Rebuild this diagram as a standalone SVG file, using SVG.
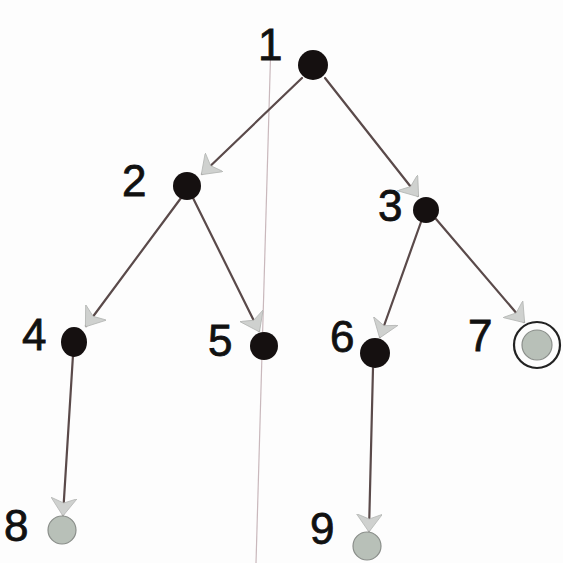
<svg xmlns="http://www.w3.org/2000/svg" width="563" height="563" viewBox="0 0 563 563">
<defs>
<style>
.edge{stroke:#5a4a4a;stroke-width:2.2;fill:none;stroke-linecap:round}
.dark{fill:#151010}
.leaf{fill:#b8c0b8;stroke:#8a8e8a;stroke-width:1.2}
.lbl{font-family:"Liberation Sans",sans-serif;font-size:44px;fill:#111;stroke:#111;stroke-width:0.8}
</style>
<marker id="ah" viewBox="0 0 18 26" refX="17" refY="13" markerWidth="18" markerHeight="26" markerUnits="userSpaceOnUse" orient="auto">
<path d="M0,0 L18,13 L0,26 L5,13 Z" fill="#cfd1cf" stroke="#b4b6b4" stroke-width="0.8"/>
</marker>
</defs>
<rect width="563" height="563" fill="#fdfdfd"/>
<line x1="271" y1="40" x2="256" y2="563" stroke="#c9b8bc" stroke-width="1.2"/>
<g id="connectors">
<line class="edge" x1="302" y1="78" x2="202" y2="174" marker-end="url(#ah)"/>
<line class="edge" x1="325" y1="78" x2="418" y2="196" marker-end="url(#ah)"/>
<line class="edge" x1="181" y1="198" x2="86" y2="326" marker-end="url(#ah)"/>
<line class="edge" x1="193" y1="198" x2="259" y2="331" marker-end="url(#ah)"/>
<line class="edge" x1="421" y1="222" x2="380" y2="337" marker-end="url(#ah)"/>
<line class="edge" x1="436" y1="219" x2="524" y2="322" marker-end="url(#ah)"/>
<line class="edge" x1="73" y1="355" x2="63" y2="515" marker-end="url(#ah)"/>
<line class="edge" x1="373" y1="368" x2="369" y2="531" marker-end="url(#ah)"/>
</g>
<g id="n1"><circle class="dark" cx="313" cy="65" r="15"/><text class="lbl" x="258" y="60">1</text></g>
<g id="n2"><circle class="dark" cx="187" cy="186" r="14"/><text class="lbl" x="122" y="196">2</text></g>
<g id="n3"><circle class="dark" cx="426" cy="210" r="13"/><text class="lbl" x="378" y="221">3</text></g>
<g id="n4"><ellipse class="dark" cx="74" cy="342" rx="13" ry="15"/><text class="lbl" x="22" y="350">4</text></g>
<g id="n5"><circle class="dark" cx="264" cy="346" r="14"/><text class="lbl" x="208" y="356">5</text></g>
<g id="n6"><circle class="dark" cx="375" cy="353" r="15"/><text class="lbl" x="330" y="352">6</text></g>
<g id="n7"><circle cx="537" cy="345" r="23" fill="none" stroke="#222" stroke-width="2.2"/><circle class="leaf" cx="537" cy="345" r="15"/><text class="lbl" x="468" y="351">7</text></g>
<g id="n8"><circle class="leaf" cx="62" cy="530" r="14"/><text class="lbl" x="4" y="541">8</text></g>
<g id="n9"><circle class="leaf" cx="367" cy="546" r="14"/><text class="lbl" x="310" y="544">9</text></g>
</svg>
